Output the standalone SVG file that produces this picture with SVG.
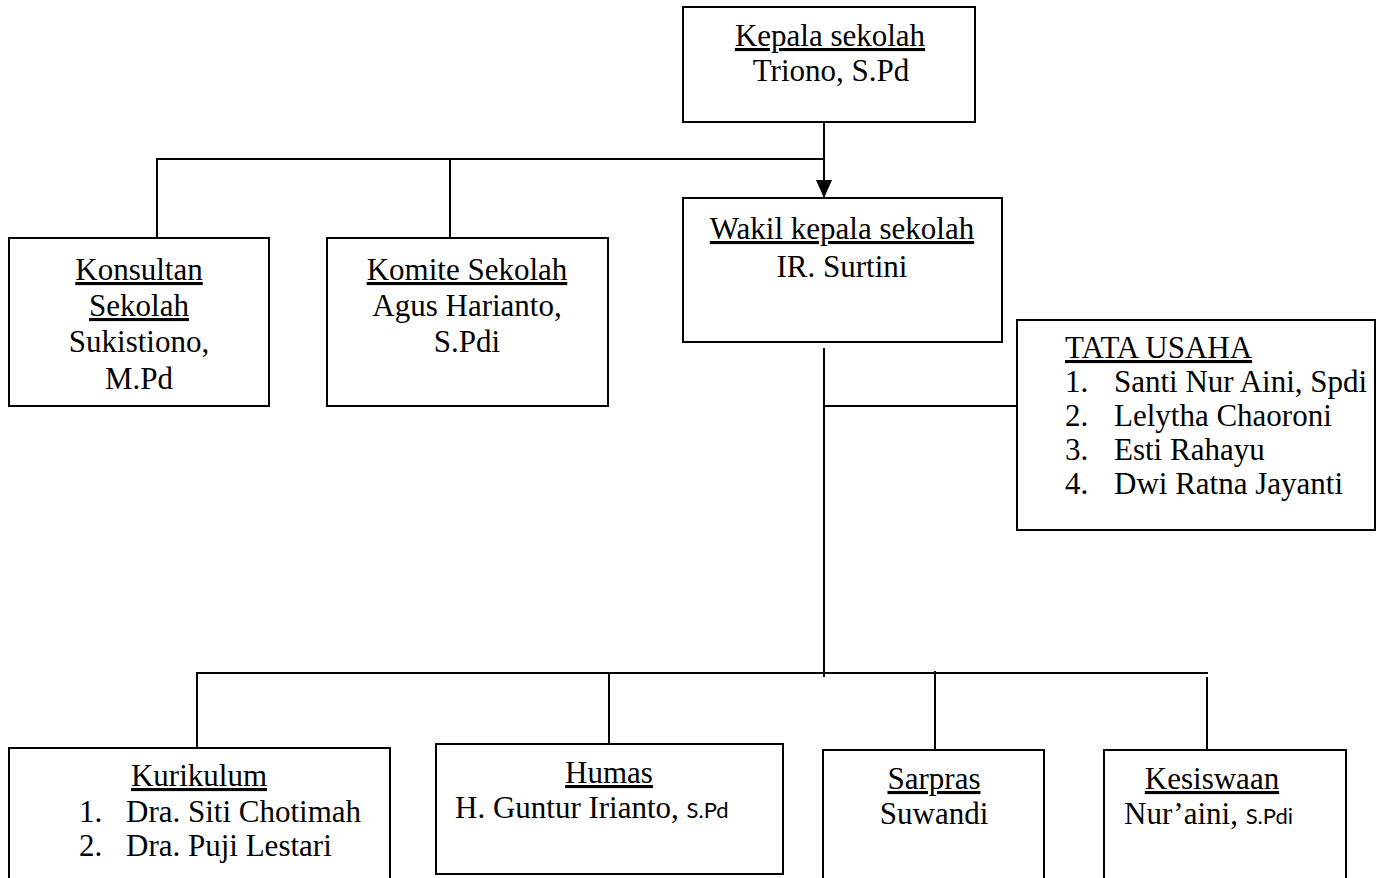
<svg xmlns="http://www.w3.org/2000/svg" width="1381" height="878" viewBox="0 0 1381 878">
<style>
.box{fill:#fff;stroke:#000;stroke-width:2}
.t{font-family:"Liberation Serif","Times New Roman",serif;font-size:31px;fill:#000}
.c{text-anchor:middle}
.u{text-decoration:underline}
.s{font-family:Lato,"Open Sans",sans-serif;font-size:22px}
.ln{stroke:#000;stroke-width:2;fill:none}
</style>
<defs>
<marker id="arr" markerWidth="18" markerHeight="16" refX="18" refY="8" orient="auto" markerUnits="userSpaceOnUse" viewBox="0 0 18 16">
<path d="M0,0 L18,8 L0,16 Z" fill="#000"/>
</marker>
</defs>
<rect width="1381" height="878" fill="#fff"/>
<g id="connectors">
<line class="ln" x1="824" y1="122" x2="824" y2="198" marker-end="url(#arr)"/>
<line class="ln" x1="157" y1="159" x2="825" y2="159"/>
<line class="ln" x1="157" y1="158" x2="157" y2="238"/>
<line class="ln" x1="450" y1="158" x2="450" y2="238"/>
<line class="ln" x1="824" y1="348" x2="824" y2="677"/>
<line class="ln" x1="824" y1="406" x2="1017" y2="406"/>
<line class="ln" x1="196" y1="673" x2="1208" y2="673"/>
<line class="ln" x1="197" y1="672" x2="197" y2="748"/>
<line class="ln" x1="609" y1="672" x2="609" y2="744"/>
<line class="ln" x1="935" y1="671" x2="935" y2="750"/>
<line class="ln" x1="1207" y1="677" x2="1207" y2="750"/>
</g>
<g id="kepala">
<rect class="box" x="683" y="7" width="292" height="115"/>
<text class="t c u" x="830" y="46">Kepala sekolah</text>
<text class="t c" x="831" y="81">Triono, S.Pd</text>
</g>
<g id="konsultan">
<rect class="box" x="9" y="238" width="260" height="168"/>
<text class="t c u" x="139" y="280">Konsultan</text>
<text class="t c u" x="139" y="316">Sekolah</text>
<text class="t c" x="139" y="352">Sukistiono,</text>
<text class="t c" x="139" y="389">M.Pd</text>
</g>
<g id="komite">
<rect class="box" x="327" y="238" width="281" height="168"/>
<text class="t c u" x="467" y="280">Komite Sekolah</text>
<text class="t c" x="467" y="316">Agus Harianto,</text>
<text class="t c" x="467" y="352">S.Pdi</text>
</g>
<g id="wakil">
<rect class="box" x="683" y="198" width="319" height="144"/>
<text class="t c u" x="842" y="239">Wakil kepala sekolah</text>
<text class="t c" x="842" y="277">IR. Surtini</text>
</g>
<g id="tatausaha">
<rect class="box" x="1017" y="320" width="358" height="210"/>
<text class="t u" x="1065" y="358">TATA USAHA</text>
<text class="t" x="1065" y="392">1.</text><text class="t" x="1114" y="392">Santi Nur Aini, Spdi</text>
<text class="t" x="1065" y="426">2.</text><text class="t" x="1114" y="426">Lelytha Chaoroni</text>
<text class="t" x="1065" y="460">3.</text><text class="t" x="1114" y="460">Esti Rahayu</text>
<text class="t" x="1065" y="494">4.</text><text class="t" x="1114" y="494">Dwi Ratna Jayanti</text>
</g>
<g id="kurikulum">
<rect class="box" x="9" y="748" width="381" height="140"/>
<text class="t c u" x="199" y="786">Kurikulum</text>
<text class="t" x="79" y="822">1.</text><text class="t" x="126" y="822">Dra. Siti Chotimah</text>
<text class="t" x="79" y="856">2.</text><text class="t" x="126" y="856">Dra. Puji Lestari</text>
</g>
<g id="humas">
<rect class="box" x="436" y="744" width="347" height="130"/>
<text class="t c u" x="609" y="783">Humas</text>
<text class="t" x="455" y="818">H. Guntur Irianto, <tspan class="s">S.Pd</tspan></text>
</g>
<g id="sarpras">
<rect class="box" x="823" y="750" width="221" height="140"/>
<text class="t c u" x="934" y="789">Sarpras</text>
<text class="t c" x="934" y="824">Suwandi</text>
</g>
<g id="kesiswaan">
<rect class="box" x="1104" y="750" width="242" height="140"/>
<text class="t c u" x="1212" y="789">Kesiswaan</text>
<text class="t" x="1124" y="824">Nur’aini, <tspan class="s">S.Pdi</tspan></text>
</g>
</svg>
